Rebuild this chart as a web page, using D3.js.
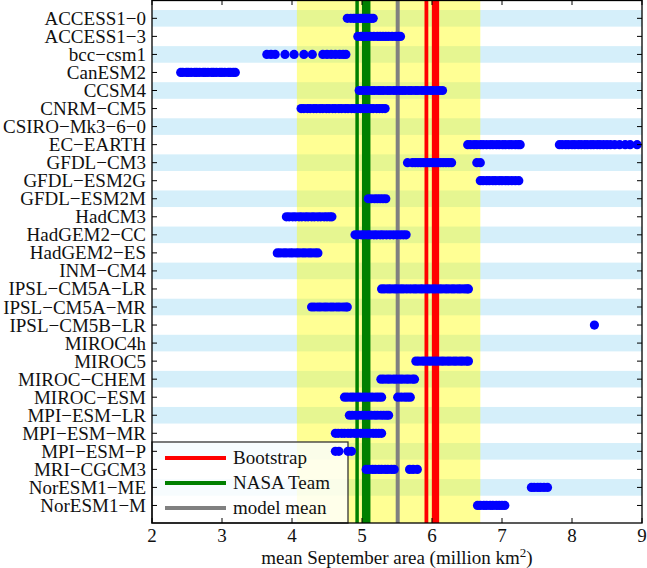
<!DOCTYPE html>
<html><head><meta charset="utf-8">
<script src="https://cdn.jsdelivr.net/npm/d3@7"></script>
<style>body{margin:0;background:#fff}svg{display:block}</style>
</head><body><svg id="c" width="647" height="568"></svg>
<script>
const models = ["ACCESS1−0","ACCESS1−3","bcc−csm1","CanESM2","CCSM4","CNRM−CM5","CSIRO−Mk3−6−0","EC−EARTH","GFDL−CM3","GFDL−ESM2G","GFDL−ESM2M","HadCM3","HadGEM2−CC","HadGEM2−ES","INM−CM4","IPSL−CM5A−LR","IPSL−CM5A−MR","IPSL−CM5B−LR","MIROC4h","MIROC5","MIROC−CHEM","MIROC−ESM","MPI−ESM−LR","MPI−ESM−MR","MPI−ESM−P","MRI−CGCM3","NorESM1−ME","NorESM1−M"];
const modelValues = [
 [4.79,4.84,4.88,4.91,4.95,4.98,5.01,5.04,5.07,5.10,5.13,5.16],
 [4.94,4.99,5.03,5.07,5.12,5.17,5.22,5.26,5.30,5.34,5.38,5.43,5.48,5.52,5.55],
 [3.64,3.70,3.76,3.90,4.03,4.17,4.29,4.44,4.50,4.56,4.62,4.68,4.73,4.77],
 [2.41,2.44,2.49,2.52,2.56,2.61,2.64,2.68,2.73,2.76,2.80,2.85,2.88,2.92,2.97,3.00,3.04,3.09,3.12,3.16,3.19],
 [4.96,5.00,5.05,5.09,5.14,5.18,5.23,5.27,5.31,5.36,5.40,5.45,5.49,5.54,5.58,5.62,5.67,5.71,5.76,5.80,5.85,5.89,5.93,5.98,6.02,6.07,6.11,6.15],
 [4.13,4.17,4.22,4.26,4.31,4.35,4.40,4.44,4.49,4.53,4.58,4.62,4.67,4.71,4.76,4.80,4.85,4.89,4.94,4.98,5.03,5.07,5.12,5.16,5.21,5.25,5.29,5.33],
 [],
 [6.51,6.55,6.60,6.64,6.69,6.73,6.78,6.83,6.87,6.92,6.96,7.01,7.05,7.10,7.14,7.19,7.23,7.26,7.82,7.86,7.91,7.95,8.00,8.04,8.09,8.13,8.18,8.22,8.27,8.31,8.36,8.40,8.45,8.50,8.55,8.61,8.68,8.76,8.83,8.93],
 [5.65,5.72,5.76,5.80,5.84,5.88,5.92,5.96,6.00,6.04,6.08,6.12,6.16,6.20,6.24,6.28,6.64,6.69],
 [6.69,6.73,6.78,6.82,6.87,6.91,6.96,7.00,7.05,7.09,7.14,7.19,7.24],
 [5.09,5.13,5.18,5.22,5.26,5.30,5.34],
 [3.92,3.96,4.01,4.05,4.10,4.14,4.19,4.23,4.28,4.32,4.37,4.41,4.46,4.50,4.54,4.57],
 [4.90,4.94,4.99,5.03,5.08,5.12,5.17,5.21,5.26,5.30,5.35,5.40,5.45,5.50,5.55,5.59,5.63],
 [3.79,3.83,3.88,3.92,3.97,4.01,4.06,4.10,4.15,4.19,4.24,4.28,4.33,4.37],
 [],
 [5.28,5.32,5.37,5.41,5.46,5.50,5.55,5.59,5.64,5.69,5.74,5.78,5.83,5.87,5.92,5.96,6.01,6.05,6.10,6.14,6.19,6.23,6.28,6.32,6.37,6.41,6.46,6.50,6.52],
 [4.28,4.32,4.37,4.41,4.46,4.50,4.55,4.59,4.64,4.68,4.73,4.77,4.79],
 [8.32],
 [],
 [5.77,5.81,5.86,5.90,5.95,5.99,6.04,6.08,6.13,6.17,6.22,6.26,6.31,6.35,6.40,6.44,6.49,6.52],
 [5.27,5.31,5.36,5.40,5.45,5.49,5.54,5.58,5.63,5.67,5.72,5.75],
 [4.75,4.79,4.84,4.88,4.93,4.97,5.02,5.06,5.11,5.15,5.20,5.24,5.28,5.51,5.56,5.61,5.65,5.69],
 [4.82,4.86,4.91,4.95,5.00,5.04,5.09,5.13,5.18,5.22,5.27,5.31,5.35,5.38],
 [4.62,4.66,4.71,4.75,4.80,4.84,4.89,4.93,4.98,5.02,5.07,5.11,5.16,5.20,5.24,5.28],
 [4.62,4.67,4.80,4.85],
 [5.06,5.10,5.15,5.19,5.24,5.28,5.33,5.37,5.42,5.46,5.68,5.73,5.79],
 [7.42,7.46,7.51,7.55,7.60,7.65],
 [6.65,6.69,6.74,6.78,6.83,6.87,6.92,6.96,7.00,7.04]
];
const bootstrapValues = [5.92, 6.05];
const nasaTeamValues = [4.93, 5.06];
const modelMean = [5.51];
const spreadRange = [4.07, 6.69];
const xTicks = [2,3,4,5,6,7,8,9];
const legendLabels = ["Bootstrap","NASA Team","model mean"];

const svg = d3.select("#c");
const L = 152, R = 642, T = 0, B = 523;
const x = d3.scaleLinear().domain([2,9]).range([L,R]);
const y = d3.scaleLinear().domain([0,29]).range([T+0.3,B+0.5]);
const step = y(1)-y(0);
const font = "'Liberation Serif','Times New Roman',serif";

// stripes
svg.append("g").selectAll("rect").data(models.map((m,i)=>i).filter(i=>i%2===0)).join("rect")
  .attr("x",L).attr("width",R-L)
  .attr("y",i=>y(i+1)-step*0.46).attr("height",step*0.92)
  .attr("fill","#d5effa");
// yellow range
svg.append("rect").attr("x",x(spreadRange[0])).attr("width",x(spreadRange[1])-x(spreadRange[0]))
  .attr("y",T).attr("height",B-T).attr("fill","rgb(255,255,0)").attr("fill-opacity",0.42);

// vertical lines
const vl = svg.append("g");
const nasaW=[3.5,8.5], bootW=[3.8,7.3];
nasaTeamValues.forEach((v,i)=>vl.append("line").attr("x1",x(v)).attr("x2",x(v)).attr("y1",T).attr("y2",B).attr("stroke","#008000").attr("stroke-width",nasaW[i]));
bootstrapValues.forEach((v,i)=>vl.append("line").attr("x1",x(v)).attr("x2",x(v)).attr("y1",T).attr("y2",B).attr("stroke","#ff0000").attr("stroke-width",bootW[i]));
modelMean.forEach(v=>vl.append("line").attr("x1",x(v)).attr("x2",x(v)).attr("y1",T).attr("y2",B).attr("stroke","#808080").attr("stroke-width",4));

// legend
const lg = svg.append("g");
lg.append("rect").attr("x",L).attr("y",442).attr("width",348-L).attr("height",B-442)
  .attr("fill","#fff").attr("fill-opacity",0.8).attr("stroke","#333").attr("stroke-width",1.3);
const lgCol=["#ff0000","#008000","#808080"];
legendLabels.forEach((t,k)=>{
  const yy=458+k*25;
  lg.append("line").attr("x1",165).attr("x2",226).attr("y1",yy).attr("y2",yy).attr("stroke",lgCol[k]).attr("stroke-width",4);
  lg.append("text").attr("x",233).attr("y",yy+6).attr("font-family",font).attr("font-size",19).attr("fill","#111").text(t);
});

// dots (drawn above legend, as in reference)
const pts=[];
modelValues.forEach((arr,i)=>arr.forEach(v=>pts.push({v,i})));
svg.append("g").selectAll("circle").data(pts).join("circle")
  .attr("cx",d=>x(d.v)).attr("cy",d=>y(d.i+1)).attr("r",4.6).attr("fill","#0000ff");

// frame
svg.append("rect").attr("x",L).attr("y",T+0.5).attr("width",R-L).attr("height",B-T-0.5).attr("fill","none").attr("stroke","#000").attr("stroke-width",1.3);
// ticks
const tk = svg.append("g").attr("stroke","#000").attr("stroke-width",1);
xTicks.forEach(v=>{
  tk.append("line").attr("x1",x(v)).attr("x2",x(v)).attr("y1",B).attr("y2",B-5);
  tk.append("line").attr("x1",x(v)).attr("x2",x(v)).attr("y1",T).attr("y2",T+5);
});
models.forEach((m,i)=>{
  tk.append("line").attr("x1",L).attr("x2",L+5).attr("y1",y(i+1)).attr("y2",y(i+1));
  tk.append("line").attr("x1",R).attr("x2",R-5).attr("y1",y(i+1)).attr("y2",y(i+1));
});
// labels
svg.append("g").selectAll("text").data(models).join("text")
  .attr("x",L-6).attr("y",(d,i)=>y(i+1)+6.5).attr("text-anchor","end")
  .attr("font-family",font).attr("font-size",19).attr("fill","#111").text(d=>d);
svg.append("g").selectAll("text").data(xTicks).join("text")
  .attr("x",d=>x(d)).attr("y",542).attr("text-anchor","middle")
  .attr("font-family",font).attr("font-size",19).attr("fill","#111").text(d=>d);
const tt = svg.append("text").attr("x",(L+R)/2).attr("y",564).attr("text-anchor","middle")
  .attr("font-family",font).attr("font-size",19).attr("fill","#111");
tt.append("tspan").text("mean September area (million km");
tt.append("tspan").attr("font-size",13).attr("dy",-7).text("2");
tt.append("tspan").attr("dy",7).text(")");
</script></body></html>
